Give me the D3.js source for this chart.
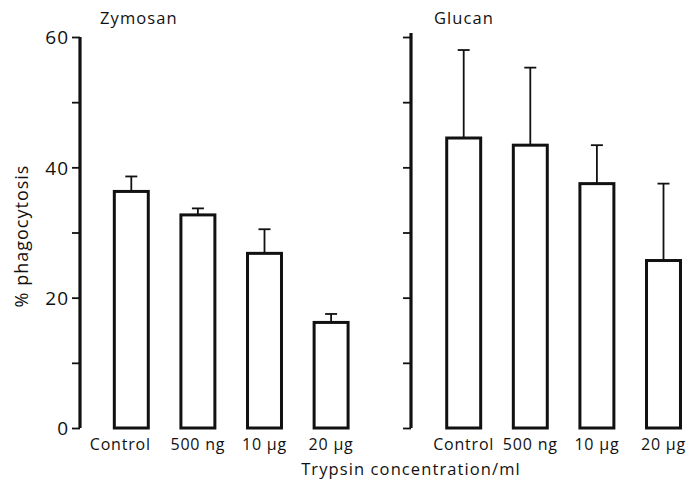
<!DOCTYPE html>
<html><head><meta charset="utf-8">
<script src="https://cdn.jsdelivr.net/npm/d3@7"></script>
<style>
body{margin:0;background:#fff;}
text{font-family:"Open Sans",sans-serif;fill:#111;font-weight:500;}
</style></head>
<body><svg id="c" width="692" height="483"></svg>
<script>
const categories = ["Control", "500 ng", "10 µg", "20 µg"];
const zymosanMean = [36.3, 32.7, 26.8, 16.2];
const zymosanErr  = [2.3, 1.0, 3.7, 1.3];
const glucanMean  = [44.5, 43.4, 37.5, 25.7];
const glucanErr   = [13.5, 11.9, 5.9, 11.8];
const yTicks = [0, 10, 20, 30, 40, 50, 60];
const yTickLabels = [0, 20, 40, 60];
const panelTitles = ["Zymosan", "Glucan"];

const svg = d3.select("#c");
const y = d3.scaleLinear().domain([0, 60]).range([428, 37]);

const panels = [
  {title: panelTitles[0], mean: zymosanMean, err: zymosanErr, axisX: 80, range: [98, 364.4], labels: true, titleX: 100},
  {title: panelTitles[1], mean: glucanMean, err: glucanErr, axisX: 411, range: [430.4, 696.8], labels: false, titleX: 434}
];

panels.forEach((p, pi) => {
  const x = d3.scaleBand().domain(categories).range(p.range).paddingInner(0.49).paddingOuter(0.245);
  const g = svg.append("g");
  const ax = d3.axisLeft(y).tickValues(yTicks).tickSize(8).tickSizeOuter(0)
    .tickFormat(d => (p.labels && yTickLabels.includes(d)) ? d : "");
  const axg = g.append("g").attr("transform", `translate(${p.axisX},0)`).call(ax);
  axg.select(".domain").attr("stroke", "#111").attr("stroke-width", 3.2)
    .attr("d", `M0,${y(60) - (pi ? 4 : 0)}V${y(0)}`);
  axg.selectAll(".tick line").attr("stroke", "#111").attr("stroke-width", 1.8);
  axg.selectAll(".tick text").attr("font-size", 19).attr("letter-spacing", 1)
    .attr("x", -11).attr("dy", "0.36em");

  categories.forEach((c, i) => {
    const cx = x(c) + x.bandwidth() / 2;
    g.append("line").attr("x1", cx).attr("x2", cx)
      .attr("y1", y(p.mean[i])).attr("y2", y(p.mean[i] + p.err[i]))
      .attr("stroke", "#111").attr("stroke-width", 1.8);
    g.append("line").attr("x1", cx - 6).attr("x2", cx + 6)
      .attr("y1", y(p.mean[i] + p.err[i])).attr("y2", y(p.mean[i] + p.err[i]))
      .attr("stroke", "#111").attr("stroke-width", 1.8);
  });
  g.selectAll("rect").data(p.mean).join("rect")
    .attr("x", (d, i) => x(categories[i]))
    .attr("width", x.bandwidth())
    .attr("y", d => y(d))
    .attr("height", d => y(0) - y(d))
    .attr("fill", "#fff").attr("stroke", "#111").attr("stroke-width", 3);
  g.selectAll("text.cat").data(categories).join("text").attr("class", "cat")
    .attr("x", (d, i) => x(d) + x.bandwidth() / 2 - (pi === 0 && i === 0 ? 11 : 0))
    .attr("y", 450).attr("text-anchor", "middle").attr("font-size", 16)
    .attr("letter-spacing", 0.8)
    .text(d => d);
  g.append("text").attr("x", p.titleX).attr("y", 24).attr("font-size", 16.5)
    .attr("letter-spacing", 1.1).text(p.title);
});

svg.append("text").attr("x", 411).attr("y", 475).attr("text-anchor", "middle")
  .attr("font-size", 16.5).attr("letter-spacing", 1.1).text("Trypsin concentration/ml");
svg.append("text").attr("transform", "translate(28,236) rotate(-90)")
  .attr("text-anchor", "middle").attr("font-size", 18).attr("letter-spacing", 1)
  .text("% phagocytosis");
</script></body></html>
